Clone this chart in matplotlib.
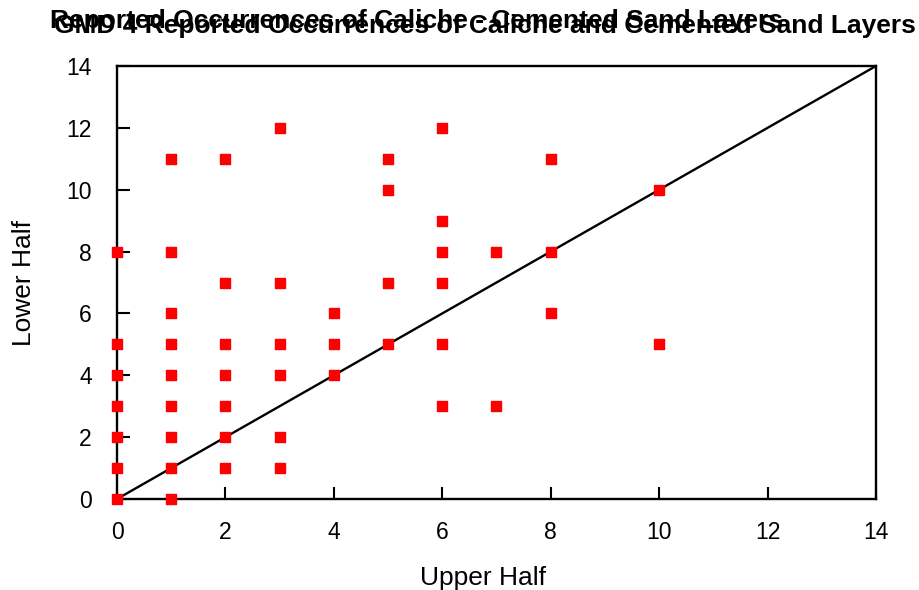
import matplotlib
matplotlib.use("Agg")
import matplotlib.pyplot as plt

plt.rcParams['font.family'] = ['Liberation Sans', 'DejaVu Sans']

upper_half = [0, 0, 0, 0, 0, 0, 0,
              1, 1, 1, 1, 1, 1, 1, 1, 1,
              2, 2, 2, 2, 2, 2, 2,
              3, 3, 3, 3, 3, 3,
              4, 4, 4,
              5, 5, 5, 5,
              6, 6, 6, 6, 6, 6,
              7, 7,
              8, 8, 8,
              10, 10]
lower_half = [0, 1, 2, 3, 4, 5, 8,
              0, 1, 2, 3, 4, 5, 6, 8, 11,
              1, 2, 3, 4, 5, 7, 11,
              1, 2, 4, 5, 7, 12,
              4, 5, 6,
              5, 7, 10, 11,
              3, 5, 7, 8, 9, 12,
              3, 8,
              6, 8, 11,
              5, 10]
line_x = [0, 14]
line_y = [0, 14]
ticks = [0, 2, 4, 6, 8, 10, 12, 14]

title_back = "Reported Occurrences of Caliche - Cemented Sand Layers"
title_front = "GMD 4 Reported Occurrences of Caliche and Cemented Sand Layers"

fig = plt.figure(figsize=(9.19, 5.90), dpi=100)
ax = fig.add_axes([117/919, 91/590, 759/919, 433/590])

ax.plot(line_x, line_y, color='black', lw=1.7, zorder=2)
ax.scatter(upper_half, lower_half, marker='s', s=58, color='#ff0000',
           edgecolors='#ff0000', linewidths=1.0, zorder=3, clip_on=False)

ax.set_xlim(0, 14)
ax.set_ylim(0, 14)
ax.set_xticks(ticks)
ax.set_yticks(ticks)
ax.tick_params(direction='in', length=9, width=1.5, labelsize=16.5, colors='black')
ax.tick_params(axis='y', pad=18)
ax.tick_params(axis='x', pad=16)
for s in ax.spines.values():
    s.set_linewidth(1.7)

ax.set_xlabel("Upper Half", fontsize=19)
ax.set_ylabel("Lower Half", fontsize=19)
ax.xaxis.set_label_coords((483 - 117) / 759, (499 - 566) / 433)
ax.yaxis.set_label_coords((36 - 117) / 759, 0.5)

fig.text(50/919, 1 - 28/590, title_back, fontsize=19, fontweight='bold',
         ha='left', va='baseline')
fig.text(54/919, 1 - 33/590, title_front, fontsize=19, fontweight='bold',
         ha='left', va='baseline')

fig.savefig("out.png", dpi=100)
